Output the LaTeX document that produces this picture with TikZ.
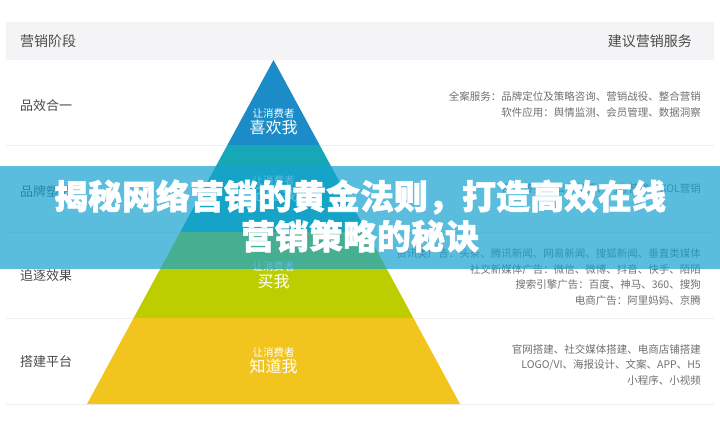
\documentclass[tikz,border=0pt]{standalone}
\usepackage{fontspec}
\setmainfont{Noto Sans CJK SC}
\newfontfamily\ttlfont{Noto Sans CJK SC}[BoldFeatures={FakeBold=1.6}]
\usetikzlibrary{positioning}
\definecolor{headbg}{HTML}{F4F4F6}
\definecolor{rule}{HTML}{EFEFEF}
\definecolor{lblc}{HTML}{4A4A4A}
\definecolor{svcc}{HTML}{707070}
\definecolor{lay1}{HTML}{1B8CC8}
\definecolor{lay2}{HTML}{17A8B8}
\definecolor{lay3}{HTML}{BCCE00}
\definecolor{lay4}{HTML}{F2C41E}
\definecolor{bannerc}{HTML}{15A2D0}
\tikzset{
  head/.style={font=\fontsize{14}{16}\selectfont, text=lblc, inner sep=0pt},
  rowlbl/.style={font=\fontsize{13}{15}\selectfont, text=lblc, anchor=west, inner sep=0pt},
  svc/.style={font=\fontsize{10.5}{15.5}\selectfont, text=svcc, anchor=east, align=right, inner sep=0pt},
  laytxt/.style={text=white, align=center, inner sep=0pt},
  title/.style={font=\fontsize{34}{40}\selectfont\ttlfont\bfseries, text=white, align=center, inner sep=0pt},
}
\newcommand{\smallln}{\fontsize{10.5}{12}\selectfont}
\newcommand{\bigln}{\fontsize{16}{18}\selectfont}
\begin{document}
\begin{tikzpicture}[x=1pt,y=-1pt]
  \useasboundingbox[fill=white] (0,0) rectangle (720,436);
  % header band
  \fill[headbg] (6,22) rectangle (714,60);
  \node[head, anchor=west] (hstage) at (20,41) {营销阶段};
  \node[head, anchor=east] (hserv) at (692,41) {建议营销服务};
  \foreach \yy in {145,232,318,404} \draw[rule, line width=1pt] (6,\yy) -- (714,\yy);
  % pyramid layers
  \fill[lay1] (273.5,60) -- (319.6,145) -- (227.4,145) -- cycle;
  \fill[lay2] (227.4,145) -- (319.6,145) -- (366.75,232) -- (180.25,232) -- cycle;
  \fill[lay3] (180.25,232) -- (366.75,232) -- (413.4,318) -- (133.6,318) -- cycle;
  \fill[lay4] (133.6,318) -- (413.4,318) -- (460,404) -- (87,404) -- cycle;
  \node[laytxt] (like) at (273.5,121.5) {\smallln 让消费者\\[1pt]\bigln 喜欢我};
  \node[laytxt] (trust) at (273.5,188.5) {\smallln 让消费者\\[1pt]\bigln 记住我};
  \node[laytxt] (buy) at (273.5,275) {\smallln 让消费者\\[2pt]\bigln 买我};
  \node[laytxt] (know) at (273.5,360.5) {\smallln 让消费者\\[1pt]\bigln 知道我};
  % row labels
  \node[rowlbl] (r1) at (20,106) {品效合一};
  \node[rowlbl] (r2) at (20,192) {品牌塑造};
  \node[rowlbl] (r3) at (20,276) {追逐效果};
  \node[rowlbl] (r4) at (20,362) {搭建平台};
  % services
  \node[svc] (s1) at (701,104.5) {全案服务：品牌定位及策略咨询、营销战役、整合营销\\软件应用：舆情监测、会员管理、数据洞察};
  \node[svc] (s2) at (701,188) {品牌传播：公关传播、内容营销、KOL营销};
  \node[svc] (s3) at (701,277) {资讯类广告：头条、腾讯新闻、网易新闻、搜狐新闻、垂直类媒体\\社交新媒体广告：微信、微博、抖音、快手、陌陌\\搜索引擎广告：百度、神马、360、搜狗\\电商广告：阿里妈妈、京腾};
  \node[svc] (s4) at (701,364.5) {官网搭建、社交媒体搭建、电商店铺搭建\\LOGO/VI、海报设计、文案、APP、H5\\小程序、小视频};
  % banner
  \fill[bannerc, opacity=0.7] (0,166) rectangle (720,269);
  \node[title] (ttl) at (360,216) {揭秘网络营销的黄金法则，打造高效在线\\营销策略的秘诀};
\end{tikzpicture}
\end{document}
